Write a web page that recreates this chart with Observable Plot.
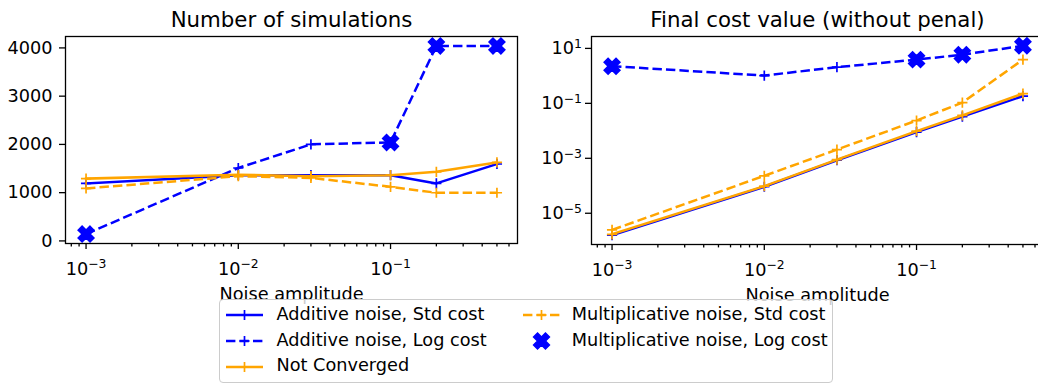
<!DOCTYPE html>
<html><head><meta charset="utf-8">
<script src="https://cdn.jsdelivr.net/npm/d3@7"></script>
<script src="https://cdn.jsdelivr.net/npm/@observablehq/plot@0.6"></script>
<style>
body{margin:0;background:#fff;overflow:hidden;font-family:"DejaVu Sans",sans-serif;}
#wrap{position:relative;width:1038px;height:385px;overflow:hidden;background:#fff;}
.panel{position:absolute;top:0;width:530px;height:310px;}
#legend{position:absolute;left:219px;top:299px;width:614px;height:84px;box-sizing:border-box;border:1.3px solid #cccccc;border-radius:4px;background:rgba(255,255,255,0.8);}
.sw{position:absolute;}
.lt{position:absolute;font-size:17.7px;line-height:20px;white-space:nowrap;color:#000;}
</style></head>
<body>
<div id="wrap">
  <div class="panel" id="left" style="left:0"></div>
  <div class="panel" id="right" style="left:530px"></div>
  <div id="legend"></div>
</div>
<script>
const BLUE = "#0000ff", ORANGE = "#ffa500";

// noise amplitudes (x)
const noise = [0.001, 0.01, 0.03, 0.1, 0.2, 0.5];
const noiseFailed = [0.001, 0.1, 0.2, 0.5];

// Number of simulations
const simAddStd  = [1150, 1320, 1320, 1320, 1150, 1553];
const simAddLog  = [100, 1470, 1960, 2000, 4000, 4000];
const simNotConv = [1250, 1330, 1300, 1320, 1390, 1585];
const simMultStd = [1046, 1300, 1265, 1080, 957, 957];
const simMultLog = [100, 2000, 4000, 4000];

// Final cost value
const costAddStd  = [1.35e-6, 7.8e-5, 7.2e-4, 7.6e-3, 0.028, 0.155];
const costAddLog  = [1.9, 0.87, 1.75, 3.3, 5.0, 10.5];
const costNotConv = [1.45e-6, 8.2e-5, 7.6e-4, 8.2e-3, 0.031, 0.19];
const costMultStd = [2.1e-6, 1.95e-4, 1.75e-3, 0.02, 0.09, 3.3];
const costMultLog = [1.9, 3.3, 5.0, 10.5];

// ticks
const xMajor = [0.001, 0.01, 0.1];
const xMajorLabels = ["10^\u22123", "10^\u22122", "10^\u22121"];
const xMinor = [0.0008, 0.0009, 0.002, 0.003, 0.004, 0.005, 0.006, 0.007, 0.008, 0.009,
                0.02, 0.03, 0.04, 0.05, 0.06, 0.07, 0.08, 0.09, 0.2, 0.3, 0.4, 0.5, 0.6];
const simTicks = [0, 1000, 2000, 3000, 4000];
const costTicks = [1e-5, 1e-3, 1e-1, 10];
const costTickLabels = ["10^\u22125", "10^\u22123", "10^\u22121", "10^1"];

const titles = ["Number of simulations", "Final cost value (without penal)"];
const xLabel = "Noise amplitude";
const legendLabels = ["Additive noise, Std cost", "Additive noise, Log cost", "Not Converged",
                      "Multiplicative noise, Std cost", "Multiplicative noise, Log cost"];

const DASH = "9.4,4.1";
const FS = 17.7;

// matplotlib-like markers
const plusSym = {draw(ctx, size) { const r = Math.sqrt(size / Math.PI);
  ctx.moveTo(-r, 0); ctx.lineTo(r, 0); ctx.moveTo(0, -r); ctx.lineTo(0, r); }};
const xSym = {draw(ctx, size) { const r = Math.sqrt(size / Math.PI), c = Math.SQRT1_2;
  const pts = [[-1,-3],[1,-3],[1,-1],[3,-1],[3,1],[1,1],[1,3],[-1,3],[-1,1],[-3,1],[-3,-1],[-1,-1]];
  pts.forEach(([a, b], i) => { const u = a / 3 * r, v = b / 3 * r;
    const px = (u - v) * c, py = (u + v) * c; i ? ctx.lineTo(px, py) : ctx.moveTo(px, py); });
  ctx.closePath(); }};

const table = (xs, ys) => xs.map((x, i) => ({x, y: ys[i]}));

function seriesDefs(a, b, c, d, e) {
  return [
    {label: legendLabels[0], color: BLUE, dash: null, data: table(noise, a)},
    {label: legendLabels[1], color: BLUE, dash: DASH, data: table(noise, b)},
    {label: legendLabels[2], color: ORANGE, dash: null, data: table(noise, c)},
    {label: legendLabels[3], color: ORANGE, dash: DASH, data: table(noise, d)},
    {label: legendLabels[4], color: BLUE, x: true, data: table(noiseFailed, e)}
  ];
}

function supify(svg) {
  const ns = "http://www.w3.org/2000/svg";
  svg.querySelectorAll("text").forEach(t => {
    const s = t.textContent, k = s.indexOf("^");
    if (k >= 0) {
      t.textContent = s.slice(0, k);
      const ts = document.createElementNS(ns, "tspan");
      ts.setAttribute("dy", "-6.3");
      ts.setAttribute("font-size", "12.4");
      ts.textContent = s.slice(k + 1);
      t.appendChild(ts);
    }
  });
}

function panel({title, yScale, yTicks, yFmt, yPad, series, marginLeft, marginRight, marginBottom}) {
  const marks = [];
  for (const s of series) {
    if (!s.x) {
      marks.push(Plot.line(s.data, {x: "x", y: "y", stroke: s.color, strokeWidth: 2.5,
        strokeDasharray: s.dash || undefined, strokeLinecap: s.dash ? "butt" : "square", strokeLinejoin: "round"}));
      marks.push(Plot.dot(s.data, {x: "x", y: "y", symbol: plusSym, r: 5.1, fill: "none",
        stroke: s.color, strokeWidth: 1.7}));
    } else {
      marks.push(Plot.dot(s.data, {x: "x", y: "y", symbol: xSym, r: 8.4, fill: s.color,
        stroke: s.color, strokeWidth: 1.5}));
    }
  }
  marks.push(
    Plot.axisX({ticks: xMinor, tickSize: 3.4, tickFormat: () => "", strokeWidth: 1.3, label: null}),
    Plot.axisX({ticks: xMajor, tickSize: 6, tickPadding: 12.5, strokeWidth: 1.3, label: null,
      tickFormat: d => xMajorLabels[xMajor.indexOf(d)], fontSize: FS}),
    Plot.axisY({ticks: yTicks, tickSize: 6, tickPadding: yPad, strokeWidth: 1.3, label: null,
      tickFormat: yFmt, fontSize: FS, dy: 2}),
    Plot.frame({stroke: "black", strokeWidth: 1.3}),
    Plot.text([title], {text: d => d, frameAnchor: "top", dy: -10, lineAnchor: "bottom", fontSize: 21.3, fill: "black"}),
    Plot.text([xLabel], {text: d => d, frameAnchor: "bottom", dy: 56, lineAnchor: "bottom", fontSize: FS, fill: "black"})
  );
  const svg = Plot.plot({
    width: 530, height: 310,
    marginTop: 36, marginBottom, marginLeft, marginRight,
    style: "max-width:none;font-family:'DejaVu Sans',sans-serif;font-size:17.7px;color:black;background:transparent;overflow:visible",
    x: {type: "log", domain: [Math.pow(10, -3.135), Math.pow(10, -0.166)], label: null, axis: null},
    y: {...yScale, label: null, axis: null},
    marks
  });
  supify(svg);
  return svg;
}

document.getElementById("left").appendChild(panel({
  title: titles[0],
  yScale: {type: "linear", domain: [-95, 4195]},
  yTicks: simTicks, yFmt: d => String(d), yPad: 7,
  series: seriesDefs(simAddStd, simAddLog, simNotConv, simMultStd, simMultLog),
  marginLeft: 65, marginRight: 13, marginBottom: 67
}));
document.getElementById("right").appendChild(panel({
  title: titles[1],
  yScale: {type: "log", domain: [Math.pow(10, -6.21), Math.pow(10, 1.36)]},
  yTicks: costTicks, yFmt: d => costTickLabels[costTicks.indexOf(d)], yPad: 3.5,
  series: seriesDefs(costAddStd, costAddLog, costNotConv, costMultStd, costMultLog),
  marginLeft: 61, marginRight: 17, marginBottom: 66
}));

// legend
const leg = document.getElementById("legend");
const legendPos = [[0, 0], [0, 1], [0, 2], [1, 0], [1, 1]];
const defs = seriesDefs(simAddStd, simAddLog, simNotConv, simMultStd, simMultLog);
defs.forEach((s, i) => {
  const [col, row] = legendPos[i];
  const cy = [15, 41, 66.7][row];
  const sx = col ? 302.7 : 5.5, tx = col ? 351.7 : 56.5;
  const sw = d3.create("svg").attr("class", "sw").attr("width", 38).attr("height", 24)
    .style("left", sx + "px").style("top", (cy - 12) + "px");
  if (!s.x) {
    sw.append("line").attr("x1", 0).attr("x2", 37).attr("y1", 12).attr("y2", 12)
      .attr("stroke", s.color).attr("stroke-width", 2.5).attr("stroke-dasharray", s.dash || null);
    sw.append("path").attr("d", "M13.4,12H23.6M18.5,6.9V17.1").attr("stroke", s.color).attr("stroke-width", 1.7).attr("fill", "none");
  } else {
    sw.append("path").attr("d", d3.symbol(xSym, Math.PI * 8.4 * 8.4)()).attr("transform", "translate(18.5,12)")
      .attr("fill", s.color).attr("stroke", s.color).attr("stroke-width", 1.5);
  }
  leg.appendChild(sw.node());
  const t = document.createElement("div");
  t.className = "lt"; t.textContent = s.label;
  t.style.left = tx + "px"; t.style.top = (cy - 11.5) + "px";
  leg.appendChild(t);
});
</script>
</body></html>
